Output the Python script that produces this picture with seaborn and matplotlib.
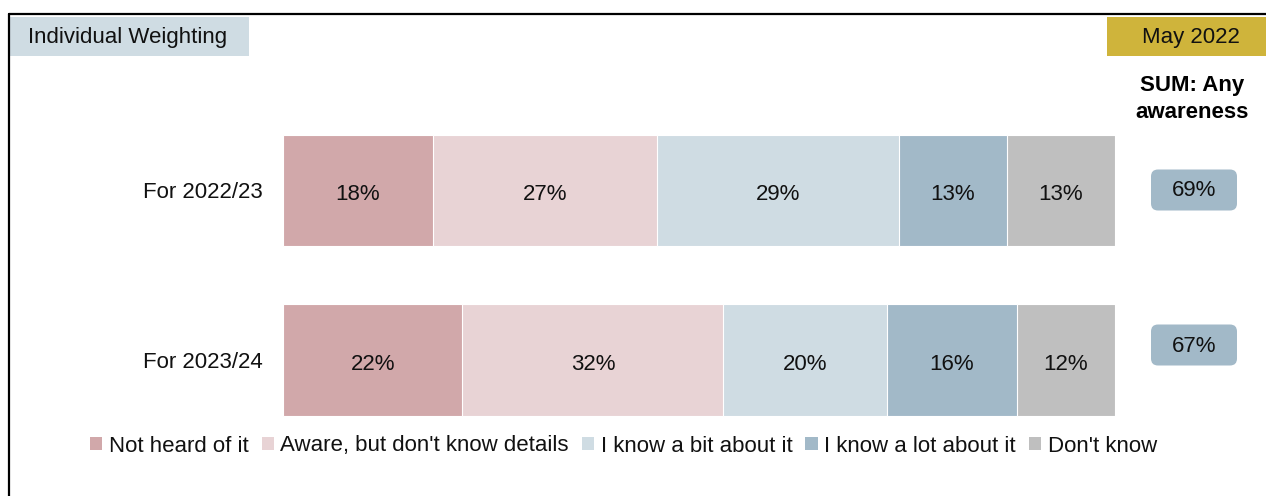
import numpy as np
import pandas as pd
import matplotlib
matplotlib.use("Agg")
import matplotlib.pyplot as plt
from matplotlib.patches import Patch, Rectangle, FancyBboxPatch
from matplotlib.lines import Line2D
from matplotlib.transforms import IdentityTransform, offset_copy
import seaborn as sns

# ---- data ----
periods = ["For 2022/23", "For 2023/24"]
responses = ["Not heard of it", "Aware, but don't know details",
             "I know a bit about it", "I know a lot about it", "Don't know"]
not_heard = [18, 22]
aware_no_details = [27, 32]
know_bit = [29, 20]
know_lot = [13, 16]
dont_know = [13, 12]
any_awareness = [69, 67]

colors = ["#D1A8AA", "#E8D3D5", "#CFDCE3", "#A2B9C8", "#BFBFBF"]
text_color = "#111111"

sns.set_theme(style="white")
plt.rcParams["font.family"] = ["Liberation Sans", "DejaVu Sans"]

W, H = 1266, 496
DPI = 100
fig = plt.figure(figsize=(W / DPI, H / DPI), dpi=DPI)
fig.patch.set_facecolor("white")


def fx(x):
    return x / W


def fy(y):
    return 1 - y / H


# stacked shares: each row fills the full bar width
values = np.array([not_heard, aware_no_details, know_bit, know_lot, dont_know]).T
shares = values / values.sum(axis=1, keepdims=True) * 100
cum = np.cumsum(shares, axis=1)

df = pd.DataFrame(cum, columns=responses)
df["period"] = periods

ax_top, ax_bot = 120, 430
ax = fig.add_axes([fx(283), fy(ax_bot), fx(1115) - fx(283), (ax_bot - ax_top) / H])

for i in range(len(responses) - 1, -1, -1):
    sns.barplot(data=df, x=responses[i], y="period", color=colors[i],
                saturation=1, width=0.655, orient="h", ax=ax,
                edgecolor="white", linewidth=0.8)

# percentage labels centred in each segment
label_tr = offset_copy(ax.transData, fig=fig, x=0, y=-10, units="dots")
for r in range(len(periods)):
    left = 0
    for c in range(len(responses)):
        ax.text(left + shares[r, c] / 2, r, f"{values[r, c]}%", transform=label_tr,
                ha="center", va="baseline", fontsize=16, color=text_color)
        left += shares[r, c]

unit = 169.5
ax.set_xlim(0, 100)
ax.set_ylim(1 + (ax_bot - 360) / unit, -(190.5 - ax_top) / unit)
ax.set_xlabel("")
ax.set_ylabel("")
ax.set_xticks([])
ax.tick_params(axis="y", length=0, pad=14.4, labelsize=16, labelcolor=text_color)
for lab in ax.get_yticklabels():
    lab.set_verticalalignment("center_baseline")
for s in ax.spines.values():
    s.set_visible(False)
ax.patch.set_alpha(0)

# legend
handles = [Patch(facecolor=c, edgecolor="none", label=l) for c, l in zip(colors, responses)]
fig.legend(handles=handles, loc="center", bbox_to_anchor=(fx(623.5), fy(446)),
           ncol=5, frameon=False, fontsize=16, handlelength=0.55, handleheight=0.55,
           handletextpad=0.3, columnspacing=0.58, borderpad=0, borderaxespad=0,
           labelcolor=text_color)

# frame lines
fig.add_artist(Line2D([fx(9), 1], [fy(14), fy(14)], color="black", lw=1.6,
                      transform=fig.transFigure))
fig.add_artist(Line2D([fx(9), fx(9)], [fy(14), 0], color="black", lw=1.6,
                      transform=fig.transFigure))

# header boxes
fig.add_artist(Rectangle((fx(10), fy(56)), fx(249) - fx(10), (56 - 17) / H,
                         facecolor="#CFDCE3", edgecolor="none", transform=fig.transFigure))
fig.text(fx(28), fy(38), "Individual Weighting", ha="left", va="center",
         fontsize=16, color=text_color)
fig.add_artist(Rectangle((fx(1107), fy(56)), 1 - fx(1107), (56 - 17) / H,
                         facecolor="#CFB43B", edgecolor="none", transform=fig.transFigure))
fig.text(fx(1191), fy(38), "May 2022", ha="center", va="center",
         fontsize=16, color=text_color)

# summary column
fig.text(fx(1192), fy(86), "SUM: Any", ha="center", va="center",
         fontsize=16, fontweight="bold", color="black")
fig.text(fx(1192), fy(113), "awareness", ha="center", va="center",
         fontsize=16, fontweight="bold", color="black")

box_centres_y = [190, 345]
bw, bh, rad = 86, 41, 7
for val, cy in zip(any_awareness, box_centres_y):
    cx = 1194
    box = FancyBboxPatch((cx - bw / 2 + rad, H - cy - bh / 2 + rad), bw - 2 * rad, bh - 2 * rad,
                         boxstyle=f"round,pad={rad},rounding_size={rad}",
                         facecolor="#A2B9C8", edgecolor="none",
                         transform=IdentityTransform())
    fig.add_artist(box)
    fig.text(fx(cx), fy(cy + 1), f"{val}%", ha="center", va="center",
             fontsize=16, color=text_color)

fig.savefig("out.png", dpi=DPI, facecolor="white")
